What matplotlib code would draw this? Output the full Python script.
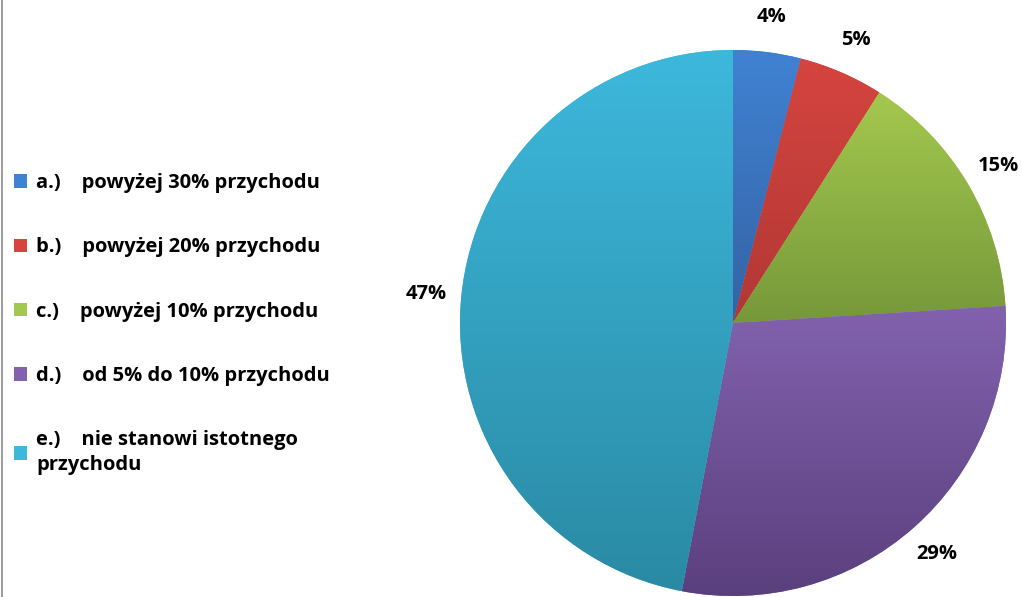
import numpy as np
import matplotlib
matplotlib.use('Agg')
import matplotlib.pyplot as plt
from matplotlib.colors import LinearSegmentedColormap
from matplotlib.lines import Line2D

plt.rcParams['font.family'] = ['Open Sans', 'DejaVu Sans']
plt.rcParams['font.weight'] = 'bold'

# dane
etykiety = ['a.)    powyżej 30% przychodu',
            'b.)    powyżej 20% przychodu',
            'c.)    powyżej 10% przychodu',
            'd.)    od 5% do 10% przychodu',
            'e.)    nie stanowi istotnego\nprzychodu']
wartosci = [4, 5, 15, 29, 47]
# kolor gora / dol (gradient)
kolory_gora = ['#4082d2', '#d5443f', '#a4c84e', '#8262ae', '#3db8dc']
kolory_dol = ['#3463a5', '#b13835', '#76983a', '#5a3f7d', '#2a8aa4']

W, H = 1022, 597
fig = plt.figure(figsize=(W/100, H/100), dpi=100)
ax = fig.add_axes([0, 0, 1, 1])

cx, cy, R = 733, H - 323, 273

wedges, texts, autotexts = ax.pie(wartosci, center=(cx, cy), radius=R,
                                  startangle=90, counterclock=False,
                                  colors=kolory_gora, autopct='%d%%',
                                  pctdistance=1.13,
                                  wedgeprops=dict(linewidth=0),
                                  textprops=dict(fontsize=14.5, fontweight='bold',
                                                 color='black'))

# gradient w kazdym wycinku
for w, c1, c2 in zip(wedges, kolory_gora, kolory_dol):
    v = w.get_path().vertices
    x0, x1 = v[:, 0].min(), v[:, 0].max()
    y0, y1 = v[:, 1].min(), v[:, 1].max()
    cmap = LinearSegmentedColormap.from_list('g', [c2, c1])
    grad = np.linspace(0, 1, 256).reshape(-1, 1)
    im = ax.imshow(grad, cmap=cmap, extent=(x0, x1, y0, y1), origin='lower',
                   aspect='auto', interpolation='bilinear', zorder=2)
    im.set_clip_path(w)

ax.set_xlim(0, W)
ax.set_ylim(0, H)
ax.set_aspect('equal')
ax.axis('off')

leg = fig.legend(wedges, etykiety, loc='upper left',
                 bbox_to_anchor=(0.006, 1 - 165/H), frameon=False,
                 fontsize=14.5, handlelength=0.65, handleheight=0.65,
                 handletextpad=0.45, labelspacing=2.2, borderaxespad=0)
for h, c1 in zip(leg.legend_handles, kolory_gora):
    h.set_facecolor(c1)
for t in leg.get_texts():
    t.set_fontweight('bold')
    t.set_linespacing(1.3)

fig.add_artist(Line2D([0.0015, 0.0015], [0, 1], color='#8a8a8a', lw=1.2))

fig.savefig('out.png', dpi=100)
